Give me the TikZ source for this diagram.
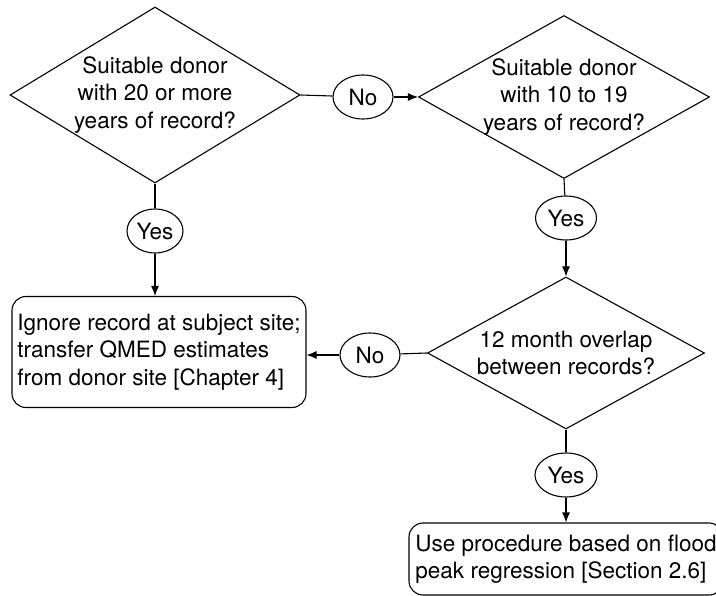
\documentclass[tikz,border=0pt]{standalone}
\usepackage{fontspec}
\setmainfont{TeX Gyre Heros}
\usetikzlibrary{shapes.geometric,arrows.meta}

\begin{document}
\begin{tikzpicture}[
    x=1pt,y=-1pt,
    line width=1.1pt,
    every node/.style={font=\fontsize{22.5}{27.5}\selectfont},
    decision/.style={draw,diamond,aspect=1.7,inner sep=-15pt,align=center},
    answer/.style={draw,ellipse,inner sep=0pt,minimum width=56pt,minimum height=44pt},
    action/.style={draw,rounded corners=14pt,inner sep=4pt,align=left},
    arr/.style={-{Latex[length=10pt,width=8pt]}}
]
\useasboundingbox (0,0) rectangle (716,596);

\node[decision,minimum width=290pt,minimum height=176pt] (D1) at (155,95)
    {Suitable donor\\with 20 or more\\years of record?};
\node[decision,minimum width=291pt,minimum height=163pt] (D2) at (564,97)
    {Suitable donor\\with 10 to 19\\years of record?};
\node[decision,minimum width=277pt,minimum height=152pt] (D3) at (566,353)
    {12 month overlap\\between records?};

\node[answer,minimum width=60pt] (N1) at (363,97)  {No};
\node[answer]                    (Y1) at (155,231) {Yes};
\node[answer,minimum width=61pt] (Y2) at (566,218) {Yes};
\node[answer,minimum width=60pt] (N2) at (370,355) {No};
\node[answer,minimum width=62pt] (Y3) at (566,475) {Yes};

\node[action,minimum width=294pt,minimum height=111pt] (B1) at (159,352)
    {Ignore record at subject site;\\transfer QMED estimates\\from donor site [Chapter 4]};
\node[action,minimum width=314pt,minimum height=72pt] (B2) at (566,559)
    {Use procedure based on flood\\peak regression [Section 2.6]};

\draw (D1.east) -- (N1);
\draw[arr] (N1) -- (D2.west);
\draw (D1.south) -- (Y1);
\draw[arr] (Y1) -- (Y1 |- B1.north);
\draw (D2.south) -- (Y2);
\draw[arr] (Y2) -- (D3.north);
\draw (D3.west) -- (N2);
\draw[arr] (N2) -- (B1.east |- N2);
\draw (D3.south) -- (Y3);
\draw[arr] (Y3) -- (B2.north);
\end{tikzpicture}
\end{document}
